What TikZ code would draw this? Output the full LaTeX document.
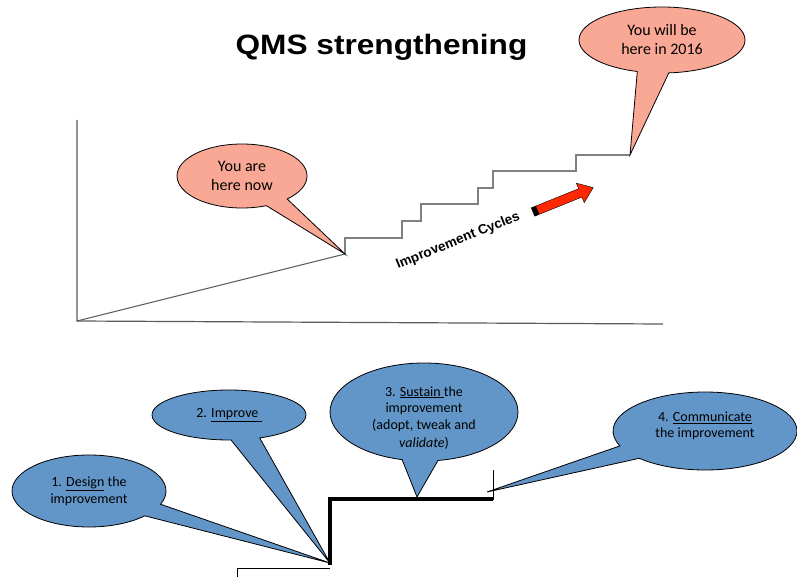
\documentclass[tikz,border=0pt]{standalone}
\usepackage{fontspec}
\setmainfont{Carlito}
\newfontfamily\arialfont{Liberation Sans}
\usetikzlibrary{shapes.callouts}
\definecolor{salmon}{RGB}{250,168,150}
\definecolor{bubbleblue}{RGB}{98,150,200}
\definecolor{arrowred}{RGB}{255,40,0}
\definecolor{axisgray}{RGB}{90,90,90}

\begin{document}
\begin{tikzpicture}[x=1pt,y=-1pt,
	bubble/.style={ellipse callout,draw=black,line width=0.8pt,inner sep=0pt,outer sep=0pt,
		align=center,callout pointer arc=22},
	here/.style={bubble,fill=salmon,font=\fontsize{16}{19}\selectfont},
	phase/.style={bubble,fill=bubbleblue,font=\fontsize{14}{17}\selectfont},
	phasetext/.style={align=center,inner sep=0pt,font=\fontsize{14}{16.5}\selectfont}]
	\useasboundingbox (0,0) rectangle (797,577);
	\node[anchor=base] (title) at (381.5,55)
		{\scalebox{1.13}[1]{\arialfont\bfseries\fontsize{28}{30}\selectfont QMS strengthening}};

	\coordinate (origin) at (77,321);
	\coordinate (ytop) at (77,120);
	\coordinate (xend) at (663,324);
	\coordinate (now) at (345,254);
	\coordinate (goal) at (630,155);
	\draw[axisgray,line width=1.2pt] (ytop) -- (origin) -- (xend);
	\draw[axisgray,line width=1pt] (origin) -- (now);
	\draw[gray,line width=1.2pt] (now) |- (402,238) |- (421,221) |- (478,204)
		|- (493,188) |- (576,171) |- (goal);

	\node[here,minimum width=130,minimum height=64,callout absolute pointer={(now)}]
		(youare) at (242,176) {You are\\here now};
	\node[here,minimum width=166,minimum height=66,callout absolute pointer={(goal)}]
		(youwill) at (662,40) {You will be\\here in 2016};

	\node[rotate=22,font=\arialfont\bfseries\fontsize{13.5}{16}\selectfont] (cycles) at (458,241)
		{Improvement Cycles};
	\begin{scope}[shift={(533,212)},rotate=22]
		\filldraw[fill=arrowred,draw=black,line width=0.4pt] (0,-4.5) -- (51,-4.5) -- (51,-10.5)
			-- (65,0) -- (51,10.5) -- (51,4.5) -- (0,4.5) -- cycle;
		\fill[black] (0,-4.5) rectangle (5,4.5);
	\end{scope}

	\coordinate (foot) at (330,563);
	\coordinate (tread) at (417,497);
	\coordinate (edge) at (487,492);
	\draw[line width=0.8pt] (237,577) |- (330,568);
	\draw[line width=4pt] (330,565) |- (493,499);
	\draw[line width=0.8pt] (493,470) -- (493,500);

	\node[phase,minimum width=154,minimum height=72,callout absolute pointer={(foot)}]
		(design) at (89,491) {1. \underline{Design} the\\improvement};
	\node[phase,minimum width=154,minimum height=50,callout absolute pointer={(foot)}]
		(improve) at (229,415) {2. \underline{Improve }};
	\node[phase,minimum width=188,minimum height=98,callout absolute pointer={(tread)}]
		(sustain) at (424,412) {};
	\node[phasetext] (sustaintext) at (424,418)
		{3. \underline{Sustain }the\\improvement\\(adopt, tweak and\\[2pt]\textit{validate})};
	\node[phase,minimum width=184,minimum height=78,callout absolute pointer={(edge)}]
		(communicate) at (705,431) {};
	\node[phasetext] (communicatetext) at (705,426) {4. \underline{Communicate}\\the improvement};
\end{tikzpicture}
\end{document}
